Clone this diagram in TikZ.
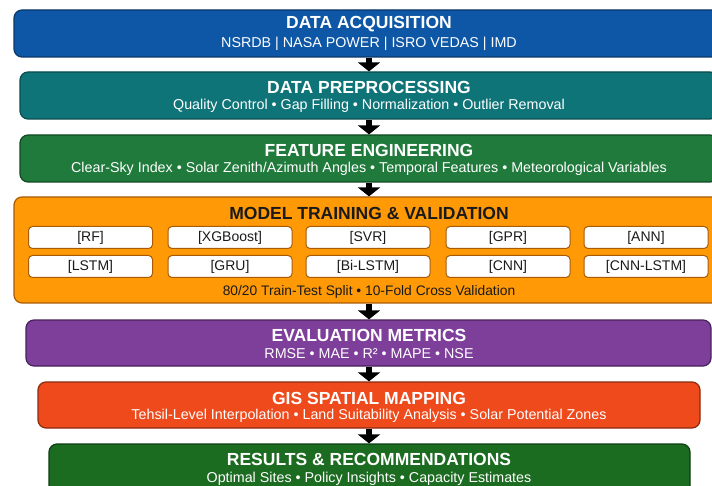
\documentclass[tikz,border=0pt]{standalone}
\usepackage{fontspec}
\setmainfont{Liberation Sans}
\usetikzlibrary{arrows.meta}
\definecolor{cBlue}{HTML}{0D57A6}
\definecolor{cBlueB}{HTML}{0A3868}
\definecolor{cTeal}{HTML}{0F7478}
\definecolor{cTealB}{HTML}{0A4C4F}
\definecolor{cGreen}{HTML}{1F7A3B}
\definecolor{cGreenB}{HTML}{114922}
\definecolor{cOrange}{HTML}{FF9A06}
\definecolor{cOrangeB}{HTML}{A85A05}
\definecolor{cPurple}{HTML}{7E3F9B}
\definecolor{cPurpleB}{HTML}{46215C}
\definecolor{cRed}{HTML}{EE4A1C}
\definecolor{cRedB}{HTML}{8C2A10}
\definecolor{cDGreen}{HTML}{1B6B20}
\definecolor{cDGreenB}{HTML}{0E3E12}
\definecolor{cText}{HTML}{1A1A1A}
\begin{document}
\begin{tikzpicture}[x=1pt,y=-1pt,
  stage/.style={draw, line width=1.2pt, rounded corners=8pt, inner sep=0pt},
  ttl/.style={text=white, font=\fontsize{17.5}{20}\selectfont\bfseries, inner sep=0pt},
  sub/.style={text=white, font=\fontsize{14.3}{16}\selectfont, inner sep=0pt},
  model/.style={draw=cOrangeB, fill=white, line width=1pt, rounded corners=4pt,
    minimum width=124pt, minimum height=22pt, inner sep=0pt, text=cText,
    font=\fontsize{14}{16}\selectfont},
  flow/.style={draw=black, line width=6pt, -{Triangle[width=22pt,length=9pt]}}
]
\useasboundingbox (0,0) rectangle (712,486);
\fill[white] (0,0) rectangle (712,486);
\clip (0,0) rectangle (712,486);

% stage boxes
\node[stage, fill=cBlue, draw=cBlueB, minimum width=712pt, minimum height=47pt] (b1) at (370,33.5) {};
\node[stage, fill=cTeal, draw=cTealB, minimum width=698pt, minimum height=47pt] (b2) at (369,95.5) {};
\node[stage, fill=cGreen, draw=cGreenB, minimum width=698pt, minimum height=47pt] (b3) at (369,158.5) {};
\node[stage, fill=cOrange, draw=cOrangeB, minimum width=710pt, minimum height=106pt] (b4) at (369,250) {};
\node[stage, fill=cPurple, draw=cPurpleB, minimum width=685pt, minimum height=46pt] (b5) at (368.5,343) {};
\node[stage, fill=cRed, draw=cRedB, minimum width=662pt, minimum height=46pt] (b6) at (369,405) {};
\node[stage, fill=cDGreen, draw=cDGreenB, minimum width=641pt, minimum height=58pt] (b7) at (369.5,473) {};

% texts
\node[ttl] (t1) at (369,24) {DATA ACQUISITION};
\node[sub] (s1) at (369,44) {NSRDB | NASA POWER | ISRO VEDAS | IMD};
\node[ttl] (t2) at (369,87) {DATA PREPROCESSING};
\node[sub] (s2) at (369,106) {Quality Control • Gap Filling • Normalization • Outlier Removal};
\node[ttl] (t3) at (369,150) {FEATURE ENGINEERING};
\node[sub] (s3) at (369,169) {Clear-Sky Index • Solar Zenith/Azimuth Angles • Temporal Features • Meteorological Variables};
\node[ttl, text=cText] (t4) at (369,213) {MODEL TRAINING \& VALIDATION};
\node[sub, text=cText, font=\fontsize{13.8}{16}\selectfont] (s4) at (369,292) {80/20 Train-Test Split • 10-Fold Cross Validation};
\node[ttl] (t5) at (369,335) {EVALUATION METRICS};
\node[sub] (s5) at (369,354) {RMSE • MAE • R² • MAPE • NSE};
\node[ttl] (t6) at (369,398) {GIS SPATIAL MAPPING};
\node[sub] (s6) at (369,416) {Tehsil-Level Interpolation • Land Suitability Analysis • Solar Potential Zones};
\node[ttl] (t7) at (369,459) {RESULTS \& RECOMMENDATIONS};
\node[sub] (s7) at (369,478.5) {Optimal Sites • Policy Insights • Capacity Estimates};

% model boxes
\node[model] (m1) at (90.5,237.5) {[RF]};
\node[model] (m2) at (230,237.5) {[XGBoost]};
\node[model] (m3) at (368,237.5) {[SVR]};
\node[model] (m4) at (508,237.5) {[GPR]};
\node[model] (m5) at (646,237.5) {[ANN]};
\node[model] (m6) at (90.5,266.5) {[LSTM]};
\node[model] (m7) at (230,266.5) {[GRU]};
\node[model] (m8) at (368,266.5) {[Bi-LSTM]};
\node[model] (m9) at (508,266.5) {[CNN]};
\node[model] (m10) at (646,266.5) {[CNN-LSTM]};

% arrows
\draw[flow] (b1.south -| t1) -- (b2.north -| t1);
\draw[flow] (b2.south -| t1) -- (b3.north -| t1);
\draw[flow] (b3.south -| t1) -- (b4.north -| t1);
\draw[flow] (b4.south -| t1) -- (b5.north -| t1);
\draw[flow] (b5.south -| t1) -- (b6.north -| t1);
\draw[flow] (b6.south -| t1) -- (b7.north -| t1);
\end{tikzpicture}
\end{document}
